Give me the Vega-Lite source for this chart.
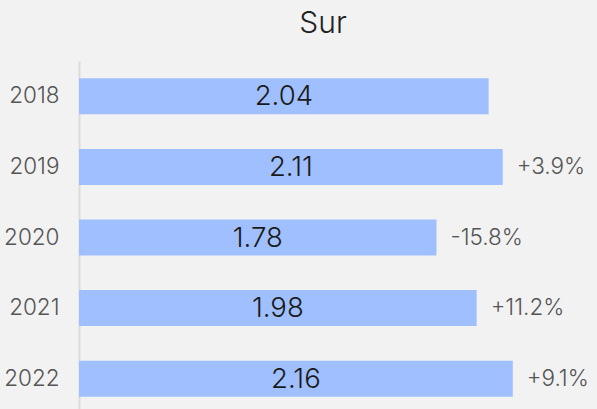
{
  "$schema": "https://vega.github.io/schema/vega-lite/v6.json",
  "width": 488,
  "height": 353,
  "autosize": {"type": "none"},
  "padding": {"left": 79, "top": 61, "right": 30, "bottom": 0},
  "background": "#f2f2f2",
  "title": {"text": "Sur", "fontSize": 30, "font": "Inter", "fontWeight": 300, "color": "#222222", "anchor": "middle", "offset": 22},
  "config": {"view": {"stroke": null}, "font": "Inter"},
  "data": {"values": [
    {"year": "2018", "value": 2.04, "change": ""},
    {"year": "2019", "value": 2.11, "change": "+3.9%"},
    {"year": "2020", "value": 1.78, "change": "-15.8%"},
    {"year": "2021", "value": 1.98, "change": "+11.2%"},
    {"year": "2022", "value": 2.16, "change": "+9.1%"}
  ]},
  "encoding": {
    "y": {"field": "year", "type": "nominal", "sort": null,
      "scale": {"paddingInner": 0.49, "paddingOuter": 0.245},
      "axis": {"title": null, "ticks": false, "labelPadding": 20, "labelFontSize": 22.5, "labelFont": "Inter", "labelFontWeight": 300, "labelColor": "#555555", "domainColor": "#dcdcdc", "domainWidth": 2, "grid": false}},
    "x": {"field": "value", "type": "quantitative", "scale": {"domain": [0, 2.43]}, "axis": null}
  },
  "layer": [
    {"mark": {"type": "bar", "color": "#a0bfff"}},
    {"transform": [{"calculate": "datum.value / 2", "as": "mid"}],
     "mark": {"type": "text", "fontSize": 27.5, "font": "Inter", "fontWeight": 300, "color": "#1a1a1a", "baseline": "middle", "align": "center", "dy": 1},
     "encoding": {"x": {"field": "mid", "type": "quantitative"}, "text": {"field": "value", "type": "quantitative", "format": ".2f"}}},
    {"mark": {"type": "text", "fontSize": 22.5, "font": "Inter", "fontWeight": 300, "color": "#555555", "baseline": "middle", "align": "left", "dx": 14},
     "encoding": {"text": {"field": "change"}}}
  ]
}
